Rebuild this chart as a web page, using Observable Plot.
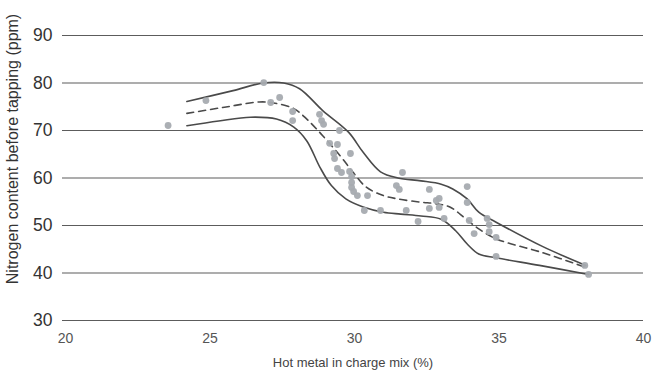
<!DOCTYPE html>
<html>
<head>
<meta charset="utf-8">
<script src="https://cdn.jsdelivr.net/npm/d3@7"></script>
<script src="https://cdn.jsdelivr.net/npm/@observablehq/plot@0.6"></script>
<style>
  html, body { margin: 0; padding: 0; background: #fff; }
  #chart svg { display: block; }
</style>
</head>
<body>
<div id="chart"></div>
<script>
// Scatter measurements: hot metal (%) vs nitrogen (ppm)
const pointX = [23.55, 24.86, 26.86, 27.10, 27.41, 27.86, 27.86, 28.79, 28.86, 28.93,
  29.48, 29.14, 29.41, 29.28, 29.31, 29.86, 29.41, 29.55, 29.83, 29.90,
  29.90, 29.90, 29.97, 30.10, 30.45, 30.34, 30.90, 31.66, 31.45, 31.55,
  31.79, 32.20, 32.59, 32.59, 32.83, 32.93, 32.93, 33.10, 33.90, 33.90,
  33.97, 34.14, 34.59, 34.66, 34.66, 34.90, 34.90, 37.97, 38.10];
const pointY = [71.05, 76.3, 80.1, 75.9, 76.95, 74.0, 72.1, 73.4, 72.1, 71.3,
  70.0, 67.3, 67.05, 65.16, 64.1, 65.16, 62.0, 61.16, 61.37, 60.3,
  59.05, 58.0, 57.16, 56.3, 56.3, 53.16, 53.16, 61.16, 58.4, 57.6,
  53.16, 50.84, 57.6, 53.6, 55.26, 55.7, 53.8, 51.5, 58.2, 54.84,
  51.05, 48.3, 51.5, 50.2, 48.7, 47.5, 43.5, 41.6, 39.7];

// Upper band (solid)
const upperX = [24.2, 25.8, 26.84, 27.55, 28.1, 28.9, 29.8, 30.3, 30.9, 31.5, 32.3, 33.0, 33.4, 33.9, 34.3, 34.9, 36.5, 38.0];
const upperY = [76.1, 78.4, 80.0, 80.0, 78.8, 74.2, 69.6, 65.4, 61.3, 60.0, 59.4, 58.7, 57.7, 55.6, 52.8, 50.7, 45.6, 41.6];
// Lower band (solid)
const lowerX = [24.2, 25.3, 26.4, 27.3, 27.9, 28.35, 28.8, 29.2, 29.7, 30.3, 31.0, 31.6, 32.3, 33.0, 33.5, 33.9, 34.3, 34.9, 36.4, 38.1];
const lowerY = [71.0, 72.0, 72.8, 72.4, 70.7, 67.8, 62.3, 58.4, 55.6, 53.9, 52.8, 52.4, 52.0, 51.3, 48.9, 46.1, 44.0, 43.2, 41.6, 39.7];
// Mean (dashed)
const meanX = [24.2, 25.5, 26.7, 27.2, 27.9, 28.35, 28.9, 29.5, 29.95, 30.4, 31.0, 31.5, 32.3, 32.8, 33.3, 33.85, 34.3, 34.9, 36.5, 38.0];
const meanY = [73.6, 74.9, 76.0, 75.8, 74.6, 72.4, 68.9, 64.7, 61.2, 58.1, 56.3, 55.6, 54.9, 54.6, 53.9, 51.4, 49.3, 47.2, 44.3, 41.2];

const xTicks = [20, 25, 30, 35, 40];
const yTicks = [30, 40, 50, 60, 70, 80, 90];
const xLabel = "Hot metal in charge mix (%)";
const yLabel = "Nitrogen content before tapping (ppm)";

const pts = pointX.map((x, i) => ({x, y: pointY[i]}));
const upper = upperX.map((x, i) => ({x, y: upperY[i]}));
const lower = lowerX.map((x, i) => ({x, y: lowerY[i]}));
const mean = meanX.map((x, i) => ({x, y: meanY[i]}));

const font = "'Liberation Sans', Arial, sans-serif";

const chart = Plot.plot({
  width: 652,
  height: 376,
  marginLeft: 62,
  marginRight: 9,
  marginTop: 35,
  marginBottom: 56,
  style: {fontFamily: font, background: "#fff", overflow: "visible"},
  x: {domain: [20, 40], insetLeft: 3},
  y: {domain: [30, 90]},
  marks: [
    Plot.ruleY(yTicks, {stroke: "#5c5c5c", strokeWidth: 1.2}),
    Plot.axisY(yTicks, {tickSize: 0, tickPadding: 10, fontSize: 17.5, fill: "#333", label: null}),
    Plot.axisX(xTicks, {tickSize: 0, tickPadding: 13, fontSize: 14, fill: "#555", label: null}),
    Plot.line(upper, {x: "x", y: "y", curve: "catmull-rom", stroke: "#4a4a4a", strokeWidth: 1.6}),
    Plot.line(lower, {x: "x", y: "y", curve: "catmull-rom", stroke: "#4a4a4a", strokeWidth: 1.6}),
    Plot.line(mean, {x: "x", y: "y", curve: "catmull-rom", stroke: "#4a4a4a", strokeWidth: 1.6, strokeDasharray: "7,5"}),
    Plot.dot(pts, {x: "x", y: "y", r: 3.4, fill: "#a6abb0", fillOpacity: 0.95, stroke: "none"}),
    Plot.text([xLabel], {frameAnchor: "bottom", dy: 46, fontSize: 13, fill: "#444"}),
    Plot.text([yLabel], {frameAnchor: "left", textAnchor: "middle", dx: -50, dy: -29, rotate: -90, fontSize: 16, fill: "#333"})
  ]
});
document.getElementById("chart").appendChild(chart);
</script>
</body>
</html>
